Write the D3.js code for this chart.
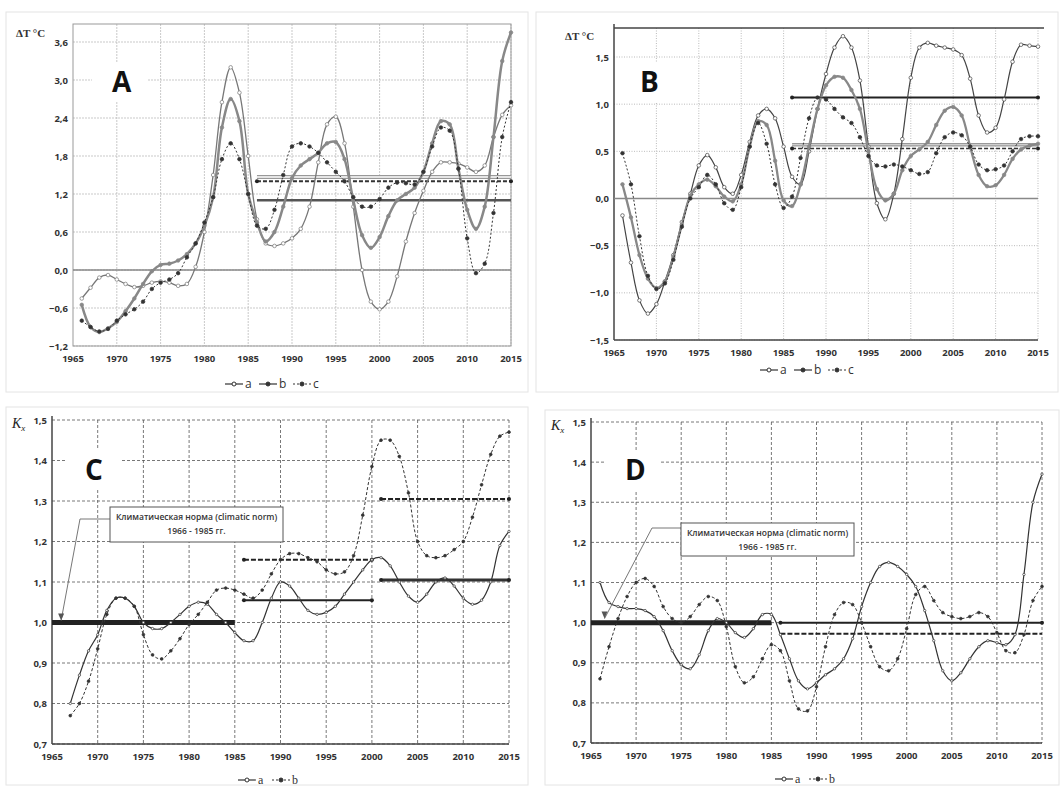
<!DOCTYPE html>
<html><head><meta charset="utf-8">
<script src="https://cdn.jsdelivr.net/npm/d3@7"></script>
<style>body{margin:0;background:#fff}svg{display:block}</style>
</head><body>
<svg id="c" width="1061" height="787"></svg>
<script>
const yearsAB = d3.range(1966, 2016);
const yearsC = d3.range(1967, 2016);
const yearsD = d3.range(1966, 2016);

const aA = [-0.45,-0.28,-0.12,-0.08,-0.15,-0.22,-0.27,-0.25,-0.2,-0.18,-0.2,-0.25,-0.22,0.05,0.6,1.5,2.65,3.2,2.8,1.8,0.8,0.42,0.38,0.42,0.5,0.65,1.0,1.7,2.3,2.42,2.0,1.0,0.0,-0.5,-0.62,-0.5,-0.1,0.45,0.9,1.25,1.55,1.7,1.7,1.68,1.62,1.55,1.65,2.1,2.45,2.6];
const bA = [-0.55,-0.9,-0.98,-0.92,-0.82,-0.65,-0.45,-0.22,-0.02,0.08,0.1,0.15,0.25,0.42,0.7,1.15,2.25,2.7,2.35,1.2,0.75,0.45,0.6,1.0,1.45,1.65,1.75,1.85,2.0,2.02,1.75,1.1,0.55,0.35,0.52,0.85,1.1,1.2,1.3,1.55,2.0,2.35,2.3,1.6,0.95,0.65,1.0,2.1,3.3,3.75];
const cA = [-0.8,-0.9,-0.97,-0.93,-0.8,-0.7,-0.62,-0.5,-0.3,-0.2,-0.15,-0.05,0.2,0.42,0.75,1.15,1.75,2.0,1.75,1.2,0.7,0.65,0.95,1.5,1.95,2.0,1.95,1.85,1.7,1.55,1.4,1.15,1.0,1.0,1.12,1.3,1.38,1.37,1.35,1.55,1.95,2.25,2.2,1.6,0.5,-0.05,0.1,0.9,2.1,2.65];
const normA = [1.1, 1.47, 1.4];

const aB = [-0.18,-0.68,-1.08,-1.22,-1.12,-0.88,-0.6,-0.25,0.05,0.35,0.46,0.33,0.12,0.05,0.25,0.6,0.88,0.95,0.85,0.55,0.23,0.15,0.5,0.95,1.32,1.6,1.72,1.6,1.25,0.55,-0.05,-0.22,0.05,0.63,1.28,1.6,1.65,1.62,1.6,1.58,1.52,1.27,0.88,0.7,0.75,1.05,1.45,1.63,1.62,1.61];
const bB = [0.15,-0.2,-0.6,-0.85,-0.95,-0.88,-0.62,-0.28,0.03,0.15,0.2,0.13,0.02,-0.03,0.15,0.55,0.82,0.78,0.4,-0.02,-0.08,0.15,0.55,0.95,1.2,1.29,1.28,1.15,0.95,0.5,0.1,-0.02,0.05,0.3,0.45,0.52,0.6,0.78,0.93,0.97,0.88,0.55,0.25,0.13,0.14,0.25,0.42,0.52,0.56,0.58];
const cB = [0.48,0.15,-0.4,-0.82,-0.96,-0.9,-0.65,-0.3,0.0,0.12,0.25,0.15,-0.05,-0.12,0.12,0.55,0.8,0.58,0.15,-0.1,0.02,0.43,0.85,1.07,1.05,0.95,0.86,0.8,0.65,0.45,0.35,0.34,0.36,0.34,0.3,0.26,0.28,0.48,0.65,0.7,0.67,0.55,0.36,0.3,0.31,0.35,0.5,0.63,0.66,0.66];
const normB = [1.07, 0.57, 0.53];

const aC = [0.8,0.87,0.93,0.97,1.03,1.06,1.06,1.04,1.0,0.985,0.985,1.0,1.02,1.04,1.05,1.045,1.02,1.0,0.975,0.955,0.955,1.0,1.06,1.1,1.09,1.06,1.03,1.02,1.025,1.04,1.07,1.1,1.13,1.155,1.16,1.14,1.1,1.065,1.05,1.07,1.1,1.11,1.09,1.06,1.045,1.055,1.1,1.19,1.225];
const bC = [0.77,0.8,0.855,0.935,1.02,1.06,1.06,1.04,0.97,0.92,0.91,0.93,0.96,0.995,1.02,1.05,1.08,1.085,1.08,1.07,1.06,1.08,1.12,1.155,1.17,1.17,1.16,1.15,1.13,1.12,1.125,1.165,1.265,1.385,1.45,1.45,1.41,1.32,1.2,1.165,1.16,1.165,1.18,1.2,1.26,1.34,1.415,1.46,1.47];

const aD = [1.1,1.05,1.04,1.035,1.035,1.03,1.015,0.98,0.93,0.895,0.885,0.92,0.98,1.01,1.0,0.975,0.963,0.985,1.02,1.02,0.97,0.91,0.855,0.835,0.85,0.87,0.885,0.91,0.96,1.04,1.1,1.14,1.15,1.14,1.12,1.09,1.03,0.955,0.88,0.855,0.875,0.91,0.94,0.955,0.95,0.945,0.97,1.12,1.3,1.37];
const bD = [0.86,0.94,1.01,1.065,1.1,1.11,1.09,1.04,1.01,1.0,1.015,1.045,1.065,1.055,0.99,0.89,0.85,0.865,0.91,0.945,0.93,0.855,0.785,0.78,0.84,0.94,1.02,1.05,1.045,1.0,0.94,0.89,0.88,0.91,0.985,1.07,1.09,1.055,1.025,1.015,1.01,1.015,1.025,1.015,0.975,0.93,0.925,0.97,1.055,1.09];

const xTicks = d3.range(1965, 2016, 5);
const yTicksA = d3.range(-1.2, 3.61, 0.6);
const yTicksB = d3.range(-1.5, 1.51, 0.5);
const yTicksK = d3.range(0.7, 1.51, 0.1);
const normText = ["Климатическая норма (climatic norm)", "1966 - 1985 гг."];

const svg = d3.select("#c");
const fmt = v => d3.format(".1f")(Math.abs(v) < 1e-9 ? 0 : v).replace(".", ",");
const font = "'Open Sans', sans-serif";

function panel(o) {
  const x = d3.scaleLinear().domain([1965, 2015]).range([o.x0, o.x1]);
  const y = d3.scaleLinear().domain(o.yd).range([o.y1, o.y0]);
  const g = svg.append("g");
  // frame of the panel
  g.append("rect").attr("x", o.frame[0]).attr("y", o.frame[1]).attr("width", o.frame[2]).attr("height", o.frame[3])
    .attr("fill", "none").attr("stroke", "#e4e4e4");
  const grid = g.append("g");
  grid.selectAll(".gx").data(xTicks.slice(1)).join("line")
    .attr("x1", d => x(d)).attr("x2", d => x(d)).attr("y1", o.top).attr("y2", o.y1)
    .attr("stroke", o.gridCol).attr("stroke-dasharray", o.gridDash).attr("stroke-width", 0.8);
  grid.selectAll(".gy").data(o.yt).join("line")
    .attr("x1", o.x0).attr("x2", o.x1).attr("y1", d => y(d)).attr("y2", d => y(d))
    .attr("stroke", o.gridCol).attr("stroke-dasharray", o.gridDash).attr("stroke-width", 0.8);
  if (o.box) g.append("rect").attr("x", o.x0).attr("y", o.top).attr("width", o.x1 - o.x0).attr("height", o.y1 - o.top)
    .attr("fill", "none").attr("stroke", "#999");
  else {
    g.append("line").attr("x1", o.x0).attr("x2", o.x0).attr("y1", o.top - 4).attr("y2", o.y1).attr("stroke", "#444").attr("stroke-width", 1.5);
    g.append("line").attr("x1", o.x0).attr("x2", o.x1).attr("y1", o.y1).attr("y2", o.y1).attr("stroke", "#444").attr("stroke-width", 1.5);
  }
  if (o.zero) g.append("line").attr("x1", o.x0).attr("x2", o.x1).attr("y1", y(0)).attr("y2", y(0)).attr("stroke", "#888").attr("stroke-width", 1.5);
  if (o.topLine) g.append("line").attr("x1", o.x0).attr("x2", o.x1 + 6).attr("y1", o.top).attr("y2", o.top).attr("stroke", "#444").attr("stroke-width", 1.3);
  // tick labels
  g.selectAll(".yl").data(o.yt).join("text").attr("x", o.x0 - 5).attr("y", d => y(d) + 3.5)
    .attr("text-anchor", "end").attr("font-family", font).attr("font-size", 9.5).attr("font-weight", 700).attr("fill", "#333").text(fmt);
  g.selectAll(".xl").data(xTicks).join("text").attr("x", d => x(d)).attr("y", o.y1 + 16)
    .attr("text-anchor", "middle").attr("font-family", font).attr("font-size", 9.5).attr("font-weight", 700).attr("fill", "#333").text(d => d);
  // axis caption
  if (o.kx) {
    const t = g.append("text").attr("x", o.capX).attr("y", o.capY).attr("font-family", "'Liberation Serif', serif").attr("font-style", "italic").attr("font-size", 14).attr("fill", "#222");
    t.append("tspan").text("K");
    t.append("tspan").attr("font-size", 9).attr("dy", 3).text("x");
  } else {
    g.append("text").attr("x", o.capX).attr("y", o.capY).attr("font-family", "'Liberation Serif', serif").attr("font-size", 11).attr("font-weight", 700).attr("fill", "#333").text("ΔT °C");
  }
  // letter
  g.append("rect").attr("x", o.letter[0] - 20).attr("y", o.letter[1] - 30).attr("width", 55).attr("height", 40).attr("fill", "#fff");
  g.append("text").attr("x", o.letter[0]).attr("y", o.letter[1]).attr("font-family", font).attr("font-size", 28).attr("font-weight", 700).attr("fill", "#111").text(o.name);
  // norm lines
  o.norms.forEach(n => {
    g.append("line").attr("x1", x(n.a)).attr("x2", x(n.b)).attr("y1", y(n.v)).attr("y2", y(n.v))
      .attr("stroke", n.c).attr("stroke-width", n.w).attr("stroke-dasharray", n.dash || null);
    if (n.dot) g.selectAll(null).data([n.a, n.b]).join("circle").attr("cx", d => x(d)).attr("cy", y(n.v)).attr("r", 2).attr("fill", "#222");
  });
  // series
  const line = d3.line().x(d => x(d[0])).y(d => y(d[1])).curve(d3.curveCatmullRom.alpha(0.5));
  o.series.forEach(s => {
    const pts = s.years.map((yr, i) => [yr, s.v[i]]);
    g.append("path").datum(pts).attr("d", line).attr("fill", "none").attr("stroke", s.c)
      .attr("stroke-width", s.w).attr("stroke-dasharray", s.dash || null);
    g.selectAll(null).data(pts).join("circle").attr("cx", d => x(d[0])).attr("cy", d => y(d[1])).attr("r", s.r)
      .attr("fill", s.open ? "#fff" : s.c).attr("stroke", s.c).attr("stroke-width", 0.7);
  });
  // callout
  if (o.callout) {
    const c = o.callout;
    g.append("polyline").attr("points", [[c.bx, c.ly], [c.kx, c.ly], [x(c.tx), y(c.ty)]].map(p => p.join(",")).join(" "))
      .attr("fill", "none").attr("stroke", "#777").attr("stroke-width", 1);
    g.append("path").attr("d", `M${x(c.tx)},${y(c.ty)} l-3,-7 l6,0 z`).attr("fill", "#555");
    g.append("rect").attr("x", c.bx).attr("y", c.by).attr("width", c.bw).attr("height", c.bh).attr("fill", "#fff").attr("stroke", "#555");
    normText.forEach((t, i) => g.append("text").attr("x", c.bx + c.bw / 2).attr("y", c.by + 13 + i * 14)
      .attr("text-anchor", "middle").attr("font-family", font).attr("font-size", 8.5).attr("font-weight", 600).attr("fill", "#333").text(t));
  }
  // legend
  const lg = g.append("g").attr("transform", `translate(${o.leg[0]},${o.leg[1]})`);
  let lx = 0;
  o.series.forEach(s => {
    lg.append("line").attr("x1", lx).attr("x2", lx + 18).attr("y1", 0).attr("y2", 0).attr("stroke", "#333").attr("stroke-width", 1.2).attr("stroke-dasharray", s.dash ? "2,2" : null);
    lg.append("circle").attr("cx", lx + 9).attr("cy", 0).attr("r", 2).attr("fill", s.open ? "#fff" : "#333").attr("stroke", "#333");
    lg.append("text").attr("x", lx + 20).attr("y", 4).attr("font-family", o.kx ? "'Liberation Serif', serif" : font).attr("font-size", 12).attr("fill", "#333").text(s.label);
    lx += 34;
  });
}

panel({
  name: "A", x0: 73, x1: 511, y0: 42, y1: 346, top: 24, yd: [-1.2, 3.6], yt: yTicksA, box: true, zero: true,
  gridCol: "#bbb", gridDash: "2,1", frame: [6, 12, 522, 380], capX: 16, capY: 37, letter: [112, 92], leg: [225, 384],
  norms: [{ a: 1986, b: 2015, v: normA[1], c: "#999", w: 4 }, { a: 1986, b: 2015, v: normA[1], c: "#fff", w: 1.5 },
          { a: 1986, b: 2015, v: normA[2], c: "#333", w: 2, dash: "4,2", dot: true }, { a: 1986, b: 2015, v: normA[0], c: "#555", w: 2.5 }],
  series: [{ label: "a", years: yearsAB, v: aA, c: "#777", w: 1.3, r: 1.8, open: true },
           { label: "b", years: yearsAB, v: bA, c: "#888", w: 2.5, r: 1.8 },
           { label: "c", years: yearsAB, v: cA, c: "#333", w: 1, r: 1.8, dash: "2,2" }]
});
panel({
  name: "B", x0: 614, x1: 1038, y0: 57, y1: 340, top: 28, yd: [-1.5, 1.5], yt: yTicksB, box: false, zero: true, topLine: true,
  gridCol: "#aaa", gridDash: "1,1.5", frame: [536, 12, 522, 380], capX: 565, capY: 40, letter: [640, 92], leg: [760, 370],
  norms: [{ a: 1986, b: 2015, v: normB[0], c: "#222", w: 2, dot: true }, { a: 1986, b: 2015, v: normB[1], c: "#999", w: 3.5 },
          { a: 1986, b: 2015, v: normB[1], c: "#ddd", w: 1 }, { a: 1986, b: 2015, v: normB[2], c: "#333", w: 1.5, dash: "4,2", dot: true }],
  series: [{ label: "a", years: yearsAB, v: aB, c: "#444", w: 1.2, r: 1.8, open: true },
           { label: "b", years: yearsAB, v: bB, c: "#888", w: 2.3, r: 1.8 },
           { label: "c", years: yearsAB, v: cB, c: "#333", w: 1, r: 1.8, dash: "2,2" }]
});
panel({
  name: "C", x0: 52, x1: 509, y0: 420, y1: 744, top: 420, yd: [0.7, 1.5], yt: yTicksK, box: false, kx: true,
  gridCol: "#555", gridDash: "3,2", frame: [6, 407, 522, 378], capX: 12, capY: 428, letter: [85, 480], leg: [238, 780],
  norms: [{ a: 1965, b: 1985, v: 1.0, c: "#222", w: 5 },
          { a: 1986, b: 2000, v: 1.055, c: "#222", w: 2, dot: true }, { a: 1986, b: 2000, v: 1.155, c: "#222", w: 2, dash: "5,2", dot: true },
          { a: 2001, b: 2015, v: 1.105, c: "#333", w: 3, dot: true }, { a: 2001, b: 2015, v: 1.305, c: "#222", w: 2, dash: "5,2", dot: true }],
  series: [{ label: "a", years: yearsC, v: aC, c: "#333", w: 1.2, r: 1.2, open: true },
           { label: "b", years: yearsC, v: bC, c: "#333", w: 1, r: 1.4, dash: "3,2" }],
  callout: { bx: 110, by: 507, bw: 173, bh: 35, ly: 519, kx: 80, tx: 1966, ty: 1.005 }
});
panel({
  name: "D", x0: 591, x1: 1042, y0: 422, y1: 743, top: 422, yd: [0.7, 1.5], yt: yTicksK, box: false, kx: true,
  gridCol: "#555", gridDash: "3,2", frame: [545, 410, 514, 375], capX: 551, capY: 430, letter: [625, 480], leg: [775, 779],
  norms: [{ a: 1965, b: 1985, v: 1.0, c: "#222", w: 5 },
          { a: 1986, b: 2015, v: 1.0, c: "#222", w: 2, dot: true }, { a: 1986, b: 2015, v: 0.972, c: "#222", w: 2, dash: "5,2" }],
  series: [{ label: "a", years: yearsD, v: aD, c: "#333", w: 1.2, r: 1.2, open: true },
           { label: "b", years: yearsD, v: bD, c: "#333", w: 1, r: 1.4, dash: "3,2" }],
  callout: { bx: 681, by: 523, bw: 173, bh: 33, ly: 528, kx: 652, tx: 1966.5, ty: 1.01 }
});
</script>
</body></html>
